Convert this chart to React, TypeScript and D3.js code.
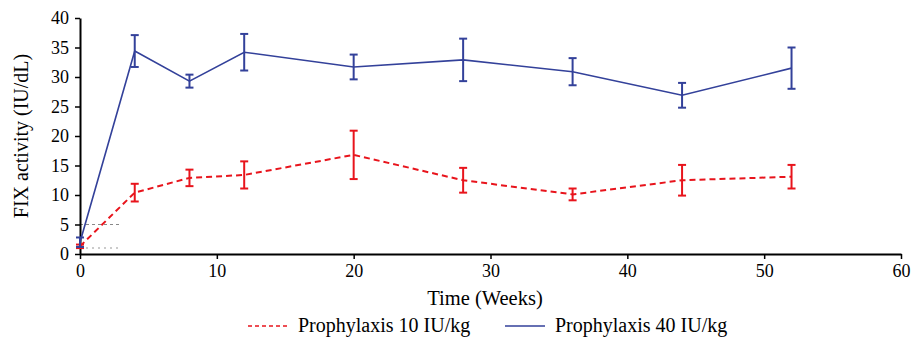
import React, { useEffect, useRef } from 'react';
import * as d3 from 'd3';

// weeks
const weeks = [0, 4, 8, 12, 20, 28, 36, 44, 52];

// Prophylaxis 10 IU/kg
const lowMean = [1.3, 10.4, 12.9, 13.4, 16.8, 12.5, 10.1, 12.5, 13.1];
const lowErr = [0.3, 1.5, 1.4, 2.3, 4.1, 2.1, 1.0, 2.6, 2.0];

// Prophylaxis 40 IU/kg
const highMean = [2.0, 34.4, 29.3, 34.2, 31.7, 32.9, 30.9, 26.9, 31.5];
const highErr = [0.8, 2.7, 1.1, 3.1, 2.1, 3.6, 2.3, 2.1, 3.5];

const xTicks = [0, 10, 20, 30, 40, 50, 60];
const yTicks = [0, 5, 10, 15, 20, 25, 30, 35, 40];

const RED = '#e8141c';
const BLUE = '#33419a';
const FONT = 'Liberation Serif';

const App = () => {
  const svgRef = useRef<SVGSVGElement>(null);

  useEffect(() => {
    const svg = d3.select(svgRef.current);
    svg.selectAll('*').remove();

    const x = d3.scaleLinear().domain([0, 60]).range([80, 901]);
    const y = d3.scaleLinear().domain([0, 40]).range([254, 18]);

    // reference lines near baseline
    svg.append('line')
      .attr('x1', x(0)).attr('x2', x(3))
      .attr('y1', y(5)).attr('y2', y(5))
      .attr('stroke', '#888').attr('stroke-width', 1)
      .attr('stroke-dasharray', '3,3');
    svg.append('line')
      .attr('x1', x(0)).attr('x2', x(3))
      .attr('y1', y(1)).attr('y2', y(1))
      .attr('stroke', '#bbb').attr('stroke-width', 1.5)
      .attr('stroke-dasharray', '2,4');

    // axes
    const yAxis = svg.append('g')
      .attr('transform', `translate(${x(0)},0)`)
      .call(d3.axisLeft(y).tickValues(yTicks).tickSize(5).tickSizeOuter(0).tickFormat(d3.format('d')));
    const xAxis = svg.append('g')
      .attr('transform', `translate(0,${y(0)})`)
      .call(d3.axisBottom(x).tickValues(xTicks).tickSize(5).tickSizeOuter(0).tickFormat(d3.format('d')));

    [xAxis, yAxis].forEach(a => {
      a.attr('font-family', FONT).attr('font-size', 18);
      a.select('.domain').attr('stroke', '#000').attr('stroke-width', 2);
      a.selectAll('.tick line').attr('stroke', '#000').attr('stroke-width', 1.5);
      a.selectAll('.tick text').attr('fill', '#000');
    });
    yAxis.selectAll('.tick text').attr('x', -11);
    xAxis.selectAll('.tick text').attr('y', 10);

    // axis titles
    svg.append('text')
      .attr('transform', `translate(28,${y(20)}) rotate(-90)`)
      .attr('text-anchor', 'middle')
      .attr('font-family', FONT)
      .attr('font-size', 20)
      .text('FIX activity (IU/dL)');

    svg.append('text')
      .attr('x', 485).attr('y', 305)
      .attr('text-anchor', 'middle')
      .attr('font-family', FONT)
      .attr('font-size', 20.5)
      .text('Time (Weeks)');

    const series = [
      { mean: lowMean, err: lowErr, color: RED, dash: '6,4', width: 2 },
      { mean: highMean, err: highErr, color: BLUE, dash: null, width: 1.6 },
    ];

    const line = d3.line<number>()
      .x((d, i) => x(weeks[i]))
      .y(d => y(d));

    series.forEach(s => {
      const g = svg.append('g');
      const bars = g.selectAll('.err')
        .data(s.mean)
        .enter()
        .append('g');
      bars.append('line')
        .attr('x1', (d, i) => x(weeks[i])).attr('x2', (d, i) => x(weeks[i]))
        .attr('y1', (d, i) => y(d - s.err[i])).attr('y2', (d, i) => y(d + s.err[i]))
        .attr('stroke', s.color).attr('stroke-width', 2);
      [-1, 1].forEach(sign => {
        bars.append('line')
          .attr('x1', (d, i) => x(weeks[i]) - 4).attr('x2', (d, i) => x(weeks[i]) + 4)
          .attr('y1', (d, i) => y(d + sign * s.err[i])).attr('y2', (d, i) => y(d + sign * s.err[i]))
          .attr('stroke', s.color).attr('stroke-width', 2);
      });
      g.append('path')
        .datum(s.mean)
        .attr('d', line)
        .attr('fill', 'none')
        .attr('stroke', s.color)
        .attr('stroke-width', s.width)
        .attr('stroke-dasharray', s.dash);
    });

    // legend
    const legend = svg.append('g').attr('transform', 'translate(0,332)');
    const items = [
      { label: 'Prophylaxis 10 IU/kg', color: RED, dash: '4,3', x0: 248 },
      { label: 'Prophylaxis 40 IU/kg', color: BLUE, dash: null, x0: 505 },
    ];
    items.forEach(it => {
      legend.append('line')
        .attr('x1', it.x0).attr('x2', it.x0 + 40)
        .attr('y1', -6).attr('y2', -6)
        .attr('stroke', it.color)
        .attr('stroke-width', 1.5)
        .attr('stroke-dasharray', it.dash);
      legend.append('text')
        .attr('x', it.x0 + 50).attr('y', 0)
        .attr('font-family', FONT)
        .attr('font-size', 20)
        .text(it.label);
    });
  }, []);

  return (
    <svg ref={svgRef} width={919} height={339} style={{ position: 'absolute', left: 0, top: 0, background: '#fff' }} />
  );
};

export default App;
